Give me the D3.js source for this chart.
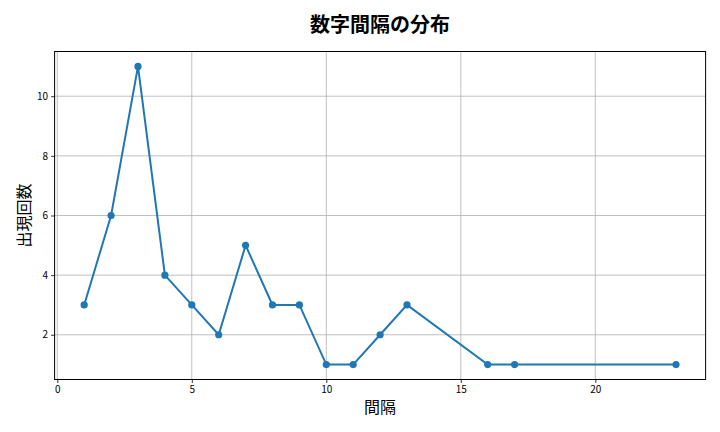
<!DOCTYPE html>
<html>
<head>
<meta charset="utf-8">
<script src="https://cdn.jsdelivr.net/npm/d3@7"></script>
<style>
  body { margin: 0; background: #fff; }
  text { font-family: "Noto Sans CJK JP", "DejaVu Sans", sans-serif; }
</style>
</head>
<body>
<svg id="chart" width="720" height="432"></svg>
<script>
// gap sizes and how often each one appears
var gaps = [1, 2, 3, 4, 5, 6, 7, 8, 9, 10, 11, 12, 13, 16, 17, 23];
var counts = [3, 6, 11, 4, 3, 2, 5, 3, 3, 1, 1, 2, 3, 1, 1, 1];
var xTicks = [0, 5, 10, 15, 20];
var yTicks = [2, 4, 6, 8, 10];

var svg = d3.select('#chart');
// plot box (note: "top" is taken by window.top, so use other names)
var plotL = 54.6, plotR = 705.6, plotT = 51.5, plotB = 379.5;

var x = d3.scaleLinear().domain([-0.1, 24.1]).range([plotL, plotR]);
var y = d3.scaleLinear().domain([0.5, 11.5]).range([plotB, plotT]);

// grid
var grid = svg.append('g').attr('stroke', '#b0b0b0').attr('stroke-width', 0.8);
grid.selectAll('line.gx').data(xTicks).enter().append('line')
    .attr('x1', d => x(d)).attr('x2', d => x(d))
    .attr('y1', plotT).attr('y2', plotB);
grid.selectAll('line.gy').data(yTicks).enter().append('line')
    .attr('x1', plotL).attr('x2', plotR)
    .attr('y1', d => y(d)).attr('y2', d => y(d));

// axes
var xAxis = svg.append('g').attr('transform', 'translate(0,' + plotB + ')')
    .call(d3.axisBottom(x).tickValues(xTicks).tickSize(3.5).tickPadding(3).tickSizeOuter(0));
var yAxis = svg.append('g').attr('transform', 'translate(' + plotL + ',0)')
    .call(d3.axisLeft(y).tickValues(yTicks).tickSize(3.5).tickPadding(3).tickSizeOuter(0));
[xAxis, yAxis].forEach(function(a) {
    a.select('.domain').remove();
    a.selectAll('text').attr('font-size', 10).attr('fill', '#000')
        .style('font-family', '"Noto Sans CJK JP", sans-serif');
    a.selectAll('line').attr('stroke', '#000').attr('stroke-width', 0.8);
});

// frame
svg.append('rect').attr('x', plotL).attr('y', plotT)
    .attr('width', plotR - plotL).attr('height', plotB - plotT)
    .attr('fill', 'none').attr('stroke', '#000').attr('stroke-width', 1);

// line + markers
var pts = gaps.map((g, i) => [g, counts[i]]);
svg.append('path').datum(pts)
    .attr('fill', 'none').attr('stroke', '#1f77b4').attr('stroke-width', 2)
    .attr('d', d3.line().x(d => x(d[0])).y(d => y(d[1])));
svg.selectAll('circle.pt').data(pts).enter().append('circle')
    .attr('cx', d => x(d[0])).attr('cy', d => y(d[1])).attr('r', 3.6)
    .attr('fill', '#1f77b4');

// labels
svg.append('text').attr('x', (plotL + plotR) / 2).attr('y', 32)
    .attr('text-anchor', 'middle').attr('font-size', 20).attr('font-weight', 'bold')
    .text('数字間隔の分布');
svg.append('text').attr('x', (plotL + plotR) / 2).attr('y', 413)
    .attr('text-anchor', 'middle').attr('font-size', 16)
    .text('間隔');
svg.append('text').attr('transform', 'translate(30,' + ((plotT + plotB) / 2) + ') rotate(-90)')
    .attr('text-anchor', 'middle').attr('font-size', 16)
    .text('出現回数');
</script>
</body>
</html>
